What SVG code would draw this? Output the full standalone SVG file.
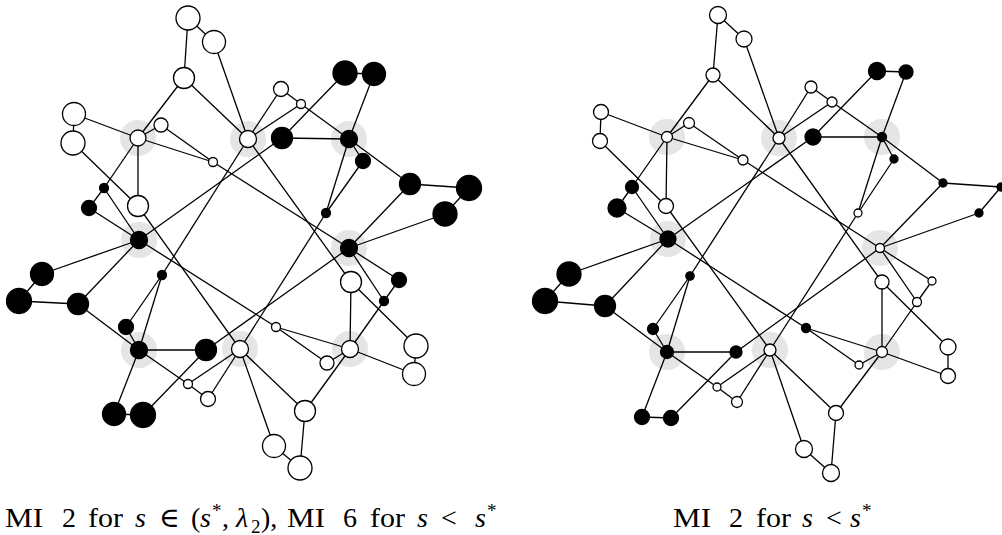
<svg xmlns="http://www.w3.org/2000/svg" width="1002" height="535" viewBox="0 0 1002 535">
  <style>
    .halo { fill: #e5e5e5; }
    .edges line { stroke: #000; stroke-width: 1.3; }
    .w { fill: #fff; stroke: #000; stroke-width: 1.3; }
    .b { fill: #000; stroke: #000; stroke-width: 1.3; }
    .cap { font-family: "Liberation Serif", "DejaVu Serif", serif; font-size: 28px; fill: #000; }
    .it { font-style: italic; }
    .sm { font-size: 19px; }
  </style>
  <rect width="1002" height="535" fill="#fff"/>

  <!-- gray halos marking the eight hub vertices of each graph -->
  <g id="halos">
    <circle class="halo" cx="138" cy="138" r="18"/>
    <circle class="halo" cx="248" cy="139" r="18"/>
    <circle class="halo" cx="349" cy="139" r="18"/>
    <circle class="halo" cx="139" cy="240" r="18"/>
    <circle class="halo" cx="349" cy="248" r="18"/>
    <circle class="halo" cx="139" cy="350" r="18"/>
    <circle class="halo" cx="240" cy="349" r="18"/>
    <circle class="halo" cx="350" cy="349" r="18"/>
    <circle class="halo" cx="667" cy="137" r="18"/>
    <circle class="halo" cx="779" cy="138" r="18"/>
    <circle class="halo" cx="882" cy="137" r="18"/>
    <circle class="halo" cx="668" cy="239" r="18"/>
    <circle class="halo" cx="880" cy="248" r="18"/>
    <circle class="halo" cx="667" cy="352" r="18"/>
    <circle class="halo" cx="770" cy="350" r="18"/>
    <circle class="halo" cx="882" cy="352" r="18"/>
  </g>

  <!-- edges -->
  <g id="connectors" class="edges">
    <!-- left graph -->
    <line x1="188" y1="18" x2="214" y2="42"/>
    <line x1="188" y1="18" x2="184" y2="78"/>
    <line x1="214" y1="42" x2="248" y2="139"/>
    <line x1="184" y1="78" x2="138" y2="138"/>
    <line x1="184" y1="78" x2="248" y2="139"/>
    <line x1="74" y1="114" x2="73" y2="143"/>
    <line x1="74" y1="114" x2="138" y2="138"/>
    <line x1="73" y1="143" x2="138" y2="206"/>
    <line x1="138" y1="138" x2="161" y2="125"/>
    <line x1="161" y1="125" x2="213" y2="162"/>
    <line x1="138" y1="138" x2="213" y2="162"/>
    <line x1="138" y1="138" x2="138" y2="206"/>
    <line x1="138" y1="138" x2="104" y2="188"/>
    <line x1="104" y1="188" x2="89" y2="208"/>
    <line x1="104" y1="188" x2="139" y2="240"/>
    <line x1="89" y1="208" x2="139" y2="240"/>
    <line x1="138" y1="206" x2="240" y2="349"/>
    <line x1="213" y1="162" x2="349" y2="248"/>
    <line x1="248" y1="139" x2="281" y2="89"/>
    <line x1="281" y1="89" x2="301" y2="104"/>
    <line x1="248" y1="139" x2="301" y2="104"/>
    <line x1="248" y1="139" x2="162" y2="275"/>
    <line x1="248" y1="139" x2="351" y2="282"/>
    <line x1="301" y1="104" x2="349" y2="139"/>
    <line x1="282" y1="138" x2="345" y2="73"/>
    <line x1="345" y1="73" x2="374" y2="74"/>
    <line x1="374" y1="74" x2="349" y2="139"/>
    <line x1="282" y1="138" x2="349" y2="139"/>
    <line x1="139" y1="240" x2="282" y2="138"/>
    <line x1="349" y1="139" x2="363" y2="161"/>
    <line x1="363" y1="161" x2="326" y2="213"/>
    <line x1="349" y1="139" x2="326" y2="213"/>
    <line x1="326" y1="213" x2="240" y2="349"/>
    <line x1="349" y1="139" x2="410" y2="184"/>
    <line x1="410" y1="184" x2="469" y2="188"/>
    <line x1="469" y1="188" x2="445" y2="214"/>
    <line x1="445" y1="214" x2="349" y2="248"/>
    <line x1="410" y1="184" x2="349" y2="248"/>
    <line x1="349" y1="248" x2="206" y2="350"/>
    <line x1="349" y1="248" x2="399" y2="280"/>
    <line x1="349" y1="248" x2="384" y2="301"/>
    <line x1="399" y1="280" x2="384" y2="301"/>
    <line x1="384" y1="301" x2="350" y2="349"/>
    <line x1="139" y1="240" x2="42" y2="274"/>
    <line x1="42" y1="274" x2="19" y2="301"/>
    <line x1="19" y1="301" x2="78" y2="304"/>
    <line x1="78" y1="304" x2="139" y2="240"/>
    <line x1="78" y1="304" x2="139" y2="350"/>
    <line x1="162" y1="275" x2="126" y2="327"/>
    <line x1="126" y1="327" x2="139" y2="350"/>
    <line x1="162" y1="275" x2="139" y2="350"/>
    <line x1="139" y1="350" x2="206" y2="350"/>
    <line x1="206" y1="350" x2="143" y2="415"/>
    <line x1="143" y1="415" x2="114" y2="414"/>
    <line x1="114" y1="414" x2="139" y2="350"/>
    <line x1="139" y1="350" x2="188" y2="384"/>
    <line x1="188" y1="384" x2="208" y2="399"/>
    <line x1="188" y1="384" x2="240" y2="349"/>
    <line x1="208" y1="399" x2="240" y2="349"/>
    <line x1="139" y1="240" x2="276" y2="327"/>
    <line x1="276" y1="327" x2="350" y2="349"/>
    <line x1="276" y1="327" x2="327" y2="363"/>
    <line x1="327" y1="363" x2="350" y2="349"/>
    <line x1="351" y1="282" x2="350" y2="349"/>
    <line x1="351" y1="282" x2="416" y2="346"/>
    <line x1="416" y1="346" x2="414" y2="374"/>
    <line x1="414" y1="374" x2="350" y2="349"/>
    <line x1="350" y1="349" x2="305" y2="411"/>
    <line x1="240" y1="349" x2="305" y2="411"/>
    <line x1="240" y1="349" x2="274" y2="446"/>
    <line x1="274" y1="446" x2="300" y2="468"/>
    <line x1="300" y1="468" x2="305" y2="411"/>
    <!-- right graph -->
    <line x1="718" y1="15" x2="744" y2="39"/>
    <line x1="718" y1="15" x2="713" y2="75"/>
    <line x1="744" y1="39" x2="779" y2="138"/>
    <line x1="713" y1="75" x2="667" y2="137"/>
    <line x1="713" y1="75" x2="779" y2="138"/>
    <line x1="601" y1="112" x2="600" y2="141"/>
    <line x1="601" y1="112" x2="667" y2="137"/>
    <line x1="600" y1="141" x2="666" y2="206"/>
    <line x1="667" y1="137" x2="689" y2="123"/>
    <line x1="689" y1="123" x2="743" y2="160"/>
    <line x1="667" y1="137" x2="743" y2="160"/>
    <line x1="667" y1="137" x2="666" y2="206"/>
    <line x1="667" y1="137" x2="632" y2="187"/>
    <line x1="632" y1="187" x2="617" y2="208"/>
    <line x1="632" y1="187" x2="668" y2="239"/>
    <line x1="617" y1="208" x2="668" y2="239"/>
    <line x1="666" y1="206" x2="770" y2="350"/>
    <line x1="743" y1="160" x2="880" y2="248"/>
    <line x1="779" y1="138" x2="811" y2="87"/>
    <line x1="811" y1="87" x2="832" y2="102"/>
    <line x1="779" y1="138" x2="832" y2="102"/>
    <line x1="779" y1="138" x2="690" y2="276"/>
    <line x1="779" y1="138" x2="882" y2="282"/>
    <line x1="832" y1="102" x2="882" y2="137"/>
    <line x1="813" y1="137" x2="877" y2="71"/>
    <line x1="877" y1="71" x2="906" y2="72"/>
    <line x1="906" y1="72" x2="882" y2="137"/>
    <line x1="813" y1="137" x2="882" y2="137"/>
    <line x1="668" y1="239" x2="813" y2="137"/>
    <line x1="882" y1="137" x2="894" y2="159"/>
    <line x1="894" y1="159" x2="858" y2="213"/>
    <line x1="882" y1="137" x2="858" y2="213"/>
    <line x1="858" y1="213" x2="770" y2="350"/>
    <line x1="882" y1="137" x2="943" y2="183"/>
    <line x1="943" y1="183" x2="1001" y2="187"/>
    <line x1="1001" y1="187" x2="979" y2="213"/>
    <line x1="979" y1="213" x2="880" y2="248"/>
    <line x1="943" y1="183" x2="880" y2="248"/>
    <line x1="880" y1="248" x2="736" y2="352"/>
    <line x1="880" y1="248" x2="932" y2="281"/>
    <line x1="880" y1="248" x2="917" y2="302"/>
    <line x1="932" y1="281" x2="917" y2="302"/>
    <line x1="917" y1="302" x2="882" y2="352"/>
    <line x1="668" y1="239" x2="569" y2="274"/>
    <line x1="569" y1="274" x2="545" y2="301"/>
    <line x1="545" y1="301" x2="605" y2="306"/>
    <line x1="605" y1="306" x2="668" y2="239"/>
    <line x1="605" y1="306" x2="667" y2="352"/>
    <line x1="690" y1="276" x2="653" y2="329"/>
    <line x1="653" y1="329" x2="667" y2="352"/>
    <line x1="690" y1="276" x2="667" y2="352"/>
    <line x1="667" y1="352" x2="736" y2="352"/>
    <line x1="736" y1="352" x2="671" y2="418"/>
    <line x1="671" y1="418" x2="642" y2="417"/>
    <line x1="642" y1="417" x2="667" y2="352"/>
    <line x1="667" y1="352" x2="717" y2="387"/>
    <line x1="717" y1="387" x2="737" y2="402"/>
    <line x1="717" y1="387" x2="770" y2="350"/>
    <line x1="737" y1="402" x2="770" y2="350"/>
    <line x1="668" y1="239" x2="806" y2="328"/>
    <line x1="806" y1="328" x2="882" y2="352"/>
    <line x1="806" y1="328" x2="859" y2="365"/>
    <line x1="859" y1="365" x2="882" y2="352"/>
    <line x1="882" y1="282" x2="882" y2="352"/>
    <line x1="882" y1="282" x2="948" y2="347"/>
    <line x1="948" y1="347" x2="948" y2="376"/>
    <line x1="948" y1="376" x2="882" y2="352"/>
    <line x1="882" y1="352" x2="836" y2="413"/>
    <line x1="770" y1="350" x2="836" y2="413"/>
    <line x1="770" y1="350" x2="804" y2="449"/>
    <line x1="804" y1="449" x2="831" y2="473"/>
    <line x1="831" y1="473" x2="836" y2="413"/>
  </g>

  <!-- left graph vertices -->
  <g id="l-h1"><circle class="w" cx="138" cy="138" r="8"/></g>
  <g id="l-h2"><circle class="w" cx="248" cy="139" r="8.5"/></g>
  <g id="l-h3"><circle class="b" cx="139" cy="240" r="8.5"/></g>
  <g id="l-h4"><circle class="b" cx="349" cy="139" r="8.5"/></g>
  <g id="l-h5"><circle class="b" cx="349" cy="248" r="8.5"/></g>
  <g id="l-h6"><circle class="b" cx="139" cy="350" r="8.5"/></g>
  <g id="l-h7"><circle class="w" cx="240" cy="349" r="8.5"/></g>
  <g id="l-h8"><circle class="w" cx="350" cy="349" r="8.5"/></g>
  <g id="l-a"><circle class="w" cx="188" cy="18" r="12"/></g>
  <g id="l-b"><circle class="w" cx="214" cy="42" r="11.5"/></g>
  <g id="l-c"><circle class="w" cx="184" cy="78" r="10.5"/></g>
  <g id="l-d"><circle class="w" cx="74" cy="114" r="11.5"/></g>
  <g id="l-e"><circle class="w" cx="73" cy="143" r="12"/></g>
  <g id="l-f"><circle class="w" cx="161" cy="125" r="7"/></g>
  <g id="l-g"><circle class="w" cx="213" cy="162" r="4.5"/></g>
  <g id="l-i"><circle class="b" cx="104" cy="188" r="4.5"/></g>
  <g id="l-j"><circle class="b" cx="89" cy="208" r="7.5"/></g>
  <g id="l-k"><circle class="w" cx="138" cy="206" r="10.5"/></g>
  <g id="l-f2"><circle class="w" cx="281" cy="89" r="7.5"/></g>
  <g id="l-g2"><circle class="w" cx="301" cy="104" r="4.5"/></g>
  <g id="l-l"><circle class="b" cx="345" cy="73" r="12"/></g>
  <g id="l-m"><circle class="b" cx="374" cy="74" r="11.5"/></g>
  <g id="l-n"><circle class="b" cx="282" cy="138" r="10.5"/></g>
  <g id="l-o"><circle class="b" cx="363" cy="161" r="7.5"/></g>
  <g id="l-p"><circle class="b" cx="410" cy="184" r="10.5"/></g>
  <g id="l-q"><circle class="b" cx="469" cy="188" r="12.5"/></g>
  <g id="l-r"><circle class="b" cx="445" cy="214" r="12"/></g>
  <g id="l-s"><circle class="b" cx="326" cy="213" r="4.5"/></g>
  <g id="l-t"><circle class="b" cx="42" cy="274" r="11.5"/></g>
  <g id="l-u"><circle class="b" cx="19" cy="301" r="12.5"/></g>
  <g id="l-v"><circle class="b" cx="78" cy="304" r="10.5"/></g>
  <g id="l-w"><circle class="b" cx="162" cy="275" r="4.5"/></g>
  <g id="l-x"><circle class="b" cx="126" cy="327" r="7.5"/></g>
  <g id="l-y"><circle class="b" cx="206" cy="350" r="10.5"/></g>
  <g id="l-z"><circle class="w" cx="188" cy="384" r="4.5"/></g>
  <g id="l-aa"><circle class="w" cx="208" cy="399" r="7.5"/></g>
  <g id="l-ab"><circle class="b" cx="114" cy="414" r="11.5"/></g>
  <g id="l-ac"><circle class="b" cx="143" cy="415" r="12.5"/></g>
  <g id="l-ad"><circle class="w" cx="351" cy="282" r="10.5"/></g>
  <g id="l-ae"><circle class="b" cx="399" cy="280" r="7.5"/></g>
  <g id="l-af"><circle class="b" cx="384" cy="301" r="4.5"/></g>
  <g id="l-ag"><circle class="w" cx="276" cy="327" r="4.5"/></g>
  <g id="l-ah"><circle class="w" cx="327" cy="363" r="7"/></g>
  <g id="l-ai"><circle class="w" cx="416" cy="346" r="12"/></g>
  <g id="l-aj"><circle class="w" cx="414" cy="374" r="11.5"/></g>
  <g id="l-ak"><circle class="w" cx="305" cy="411" r="10.5"/></g>
  <g id="l-al"><circle class="w" cx="274" cy="446" r="11.5"/></g>
  <g id="l-am"><circle class="w" cx="300" cy="468" r="12"/></g>

  <!-- right graph vertices -->
  <g id="r-h1"><circle class="w" cx="667" cy="137" r="5.5"/></g>
  <g id="r-h2"><circle class="w" cx="779" cy="138" r="6"/></g>
  <g id="r-h3"><circle class="b" cx="668" cy="239" r="8"/></g>
  <g id="r-h4"><circle class="b" cx="882" cy="137" r="4.5"/></g>
  <g id="r-h5"><circle class="w" cx="880" cy="248" r="4.5"/></g>
  <g id="r-h6"><circle class="b" cx="667" cy="352" r="6.5"/></g>
  <g id="r-h7"><circle class="w" cx="770" cy="350" r="6"/></g>
  <g id="r-h8"><circle class="w" cx="882" cy="352" r="5.5"/></g>
  <g id="r-a"><circle class="w" cx="718" cy="15" r="8.5"/></g>
  <g id="r-b"><circle class="w" cx="744" cy="39" r="8"/></g>
  <g id="r-c"><circle class="w" cx="713" cy="75" r="7"/></g>
  <g id="r-d"><circle class="w" cx="601" cy="112" r="7.5"/></g>
  <g id="r-e"><circle class="w" cx="600" cy="141" r="7.5"/></g>
  <g id="r-f"><circle class="w" cx="689" cy="123" r="5.5"/></g>
  <g id="r-g"><circle class="w" cx="743" cy="160" r="5"/></g>
  <g id="r-i"><circle class="b" cx="632" cy="187" r="6.5"/></g>
  <g id="r-j"><circle class="b" cx="617" cy="208" r="9"/></g>
  <g id="r-k"><circle class="w" cx="666" cy="206" r="7.5"/></g>
  <g id="r-f2"><circle class="w" cx="811" cy="87" r="6"/></g>
  <g id="r-g2"><circle class="w" cx="832" cy="102" r="5"/></g>
  <g id="r-l"><circle class="b" cx="877" cy="71" r="8.5"/></g>
  <g id="r-m"><circle class="b" cx="906" cy="72" r="7"/></g>
  <g id="r-n"><circle class="b" cx="813" cy="137" r="8"/></g>
  <g id="r-o"><circle class="b" cx="894" cy="159" r="4"/></g>
  <g id="r-p"><circle class="b" cx="943" cy="183" r="4"/></g>
  <g id="r-q"><circle class="b" cx="1001" cy="187" r="4"/></g>
  <g id="r-r"><circle class="b" cx="979" cy="213" r="4"/></g>
  <g id="r-s"><circle class="w" cx="858" cy="213" r="4"/></g>
  <g id="r-t"><circle class="b" cx="569" cy="274" r="12"/></g>
  <g id="r-u"><circle class="b" cx="545" cy="301" r="12.5"/></g>
  <g id="r-v"><circle class="b" cx="605" cy="306" r="10.5"/></g>
  <g id="r-w"><circle class="b" cx="690" cy="276" r="4.2"/></g>
  <g id="r-x"><circle class="b" cx="653" cy="329" r="5.5"/></g>
  <g id="r-y"><circle class="b" cx="736" cy="352" r="6"/></g>
  <g id="r-z"><circle class="w" cx="717" cy="387" r="4"/></g>
  <g id="r-aa"><circle class="w" cx="737" cy="402" r="5.5"/></g>
  <g id="r-ab"><circle class="b" cx="642" cy="417" r="7.5"/></g>
  <g id="r-ac"><circle class="b" cx="671" cy="418" r="7.5"/></g>
  <g id="r-ad"><circle class="w" cx="882" cy="282" r="7"/></g>
  <g id="r-ae"><circle class="w" cx="932" cy="281" r="4"/></g>
  <g id="r-af"><circle class="w" cx="917" cy="302" r="4.5"/></g>
  <g id="r-ag"><circle class="b" cx="806" cy="328" r="4.5"/></g>
  <g id="r-ah"><circle class="w" cx="859" cy="365" r="4"/></g>
  <g id="r-ai"><circle class="w" cx="948" cy="347" r="8"/></g>
  <g id="r-aj"><circle class="w" cx="948" cy="376" r="7.5"/></g>
  <g id="r-ak"><circle class="w" cx="836" cy="413" r="7.5"/></g>
  <g id="r-al"><circle class="w" cx="804" cy="449" r="8.5"/></g>
  <g id="r-am"><circle class="w" cx="831" cy="473" r="8.5"/></g>

  <!-- captions -->
  <text class="cap" y="527">
    <tspan x="5" textLength="38" lengthAdjust="spacingAndGlyphs">MI</tspan><tspan x="62">2</tspan><tspan x="88" textLength="35" lengthAdjust="spacingAndGlyphs">for</tspan><tspan x="135" class="it">s</tspan><tspan x="159">∈</tspan><tspan x="191">(</tspan><tspan x="200" class="it">s</tspan><tspan x="212" y="517" class="sm">*</tspan><tspan x="222" y="527">,</tspan><tspan x="236" class="it">λ</tspan><tspan x="251" y="533" class="sm">2</tspan><tspan x="261" y="527">),</tspan><tspan x="287" textLength="38" lengthAdjust="spacingAndGlyphs">MI</tspan><tspan x="343">6</tspan><tspan x="370" textLength="35" lengthAdjust="spacingAndGlyphs">for</tspan><tspan x="417" class="it">s</tspan><tspan x="441">&lt;</tspan><tspan x="475" class="it">s</tspan><tspan x="487" y="517" class="sm">*</tspan>
  </text>
  <text class="cap" y="527">
    <tspan x="673" textLength="38" lengthAdjust="spacingAndGlyphs">MI</tspan><tspan x="729">2</tspan><tspan x="756" textLength="35" lengthAdjust="spacingAndGlyphs">for</tspan><tspan x="802" class="it">s</tspan><tspan x="826">&lt;</tspan><tspan x="850" class="it">s</tspan><tspan x="862" y="517" class="sm">*</tspan>
  </text>
</svg>
